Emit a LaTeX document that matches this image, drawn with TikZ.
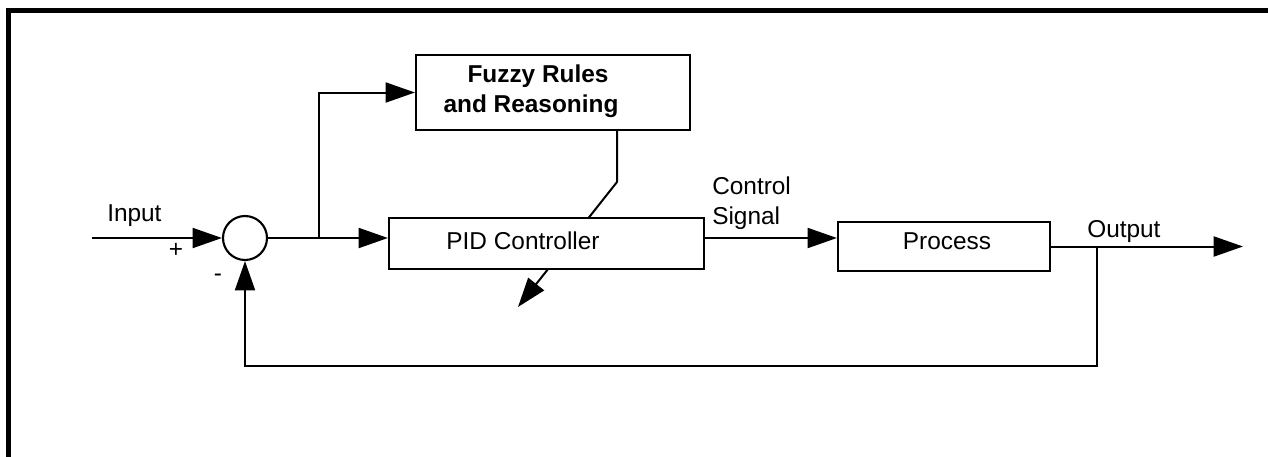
\documentclass[tikz,border=0pt]{standalone}
\usepackage{fontspec}
\setmainfont{Liberation Sans}
\usetikzlibrary{arrows.meta,backgrounds}
\begin{document}
\begin{tikzpicture}[x=0.75pt,y=-0.75pt,
  wire/.style={line width=1.5pt},
  arr/.style={wire,-{Triangle[length=22pt,width=15pt]}},
  blockbox/.style={draw,line width=1.6pt,fill=white,inner sep=0pt},
  lbl/.style={font=\fontsize{18.3pt}{22.5pt}\selectfont,inner sep=0pt},
  boldlbl/.style={font=\fontsize{18.3pt}{22.5pt}\selectfont\bfseries,inner sep=0pt},
  ]
\useasboundingbox (0,0) rectangle (1268,457);
% frame
\draw[line width=3.75pt] (8.3,457) -- (8.3,10.8) -- (1268,10.8);

% blocks
\node[draw,circle,line width=1.6pt,fill=white,minimum size=33pt,inner sep=0pt] (sum) at (245,238) {};
\node[blockbox,minimum width=205.5pt,minimum height=56.25pt] (fz) at (553,92.5) {};
\node[blockbox,minimum width=236.25pt,minimum height=38.25pt] (pid) at (546.5,243.5) {};
\node[blockbox,minimum width=159pt,minimum height=36.75pt] (proc) at (944,246.5) {};

% block texts
\node[boldlbl,anchor=base] (fzt1) at (538,82) {Fuzzy Rules};
\node[boldlbl,anchor=base] (fzt2) at (531,112) {and Reasoning};
\node[lbl,anchor=base] (pidt) at (523,249) {PID Controller};
\node[lbl,anchor=base] (proct) at (947,249) {Process};

% signal labels
\node[lbl,anchor=base west] (inlbl) at (107,221) {Input};
\node[lbl] (plus) at (176,250) {+};
\node[lbl] (minus) at (218,278) {-};
\node[lbl,anchor=base west] (cs1) at (712,194) {Control};
\node[lbl,anchor=base west] (cs2) at (712,224) {Signal};
\node[lbl,anchor=base west] (outlbl) at (1087,237) {Output};

% points on the wires
\coordinate (in) at (92,238);
\coordinate (br) at (319,238);
\coordinate (out) at (1243,246.5);
\coordinate (tap) at (1097,246.5);
\coordinate (fb) at (1097,366);
\coordinate (bend) at (617,182);
\coordinate (tip) at (518,307);

% connectors
\draw[arr] (in) -- (sum.west);
\draw[arr] (sum.east) -- (pid.west |- sum.east);
\draw[arr] (br) |- (fz.west);
\draw[arr] (pid.east |- sum.east) -- (proc.west |- sum.east);
\draw[arr] (proc.east) -- (out);
\draw[arr] (tap) -- (fb) -- (sum.south |- fb) -- (sum.south);
\begin{scope}[on background layer]
  \draw[arr] (fz.south -| bend) -- (bend) -- (tip);
\end{scope}
\end{tikzpicture}
\end{document}
